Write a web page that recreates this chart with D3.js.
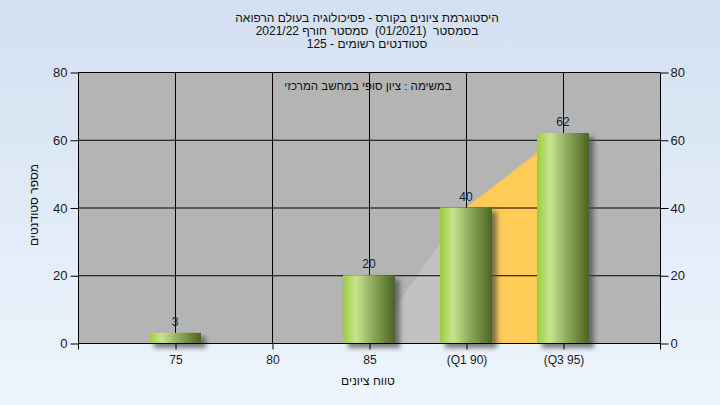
<!DOCTYPE html>
<html><head><meta charset="utf-8">
<script src="https://cdn.jsdelivr.net/npm/d3@7/dist/d3.min.js"></script>
<style>
body{margin:0;padding:0;}
svg{display:block;font-family:"Liberation Sans","DejaVu Sans",Arial,sans-serif;}
text{white-space:pre;}
</style></head>
<body>
<svg id="c" width="720" height="405"></svg>
<script>
const titleLines = ["היסטוגרמת ציונים בקורס - פסיכולוגיה בעולם הרפואה",
  "בסמסטר  (01/2021)  סמסטר חורף 2021/22",
  "סטודנטים רשומים - 125"];
const legendText = "במשימה : ציון סופי במחשב המרכזי";
const categories = ["75","80","85","(Q1 90)","(Q3 95)"];
const counts = [3, 0, 20, 40, 62];
const lowerArea = [null, null, 0, 40, null];
const iqrArea = [null, null, null, 40, 62];
const yTicks = [0,20,40,60,80];
const xTitle = "טווח ציונים";
const yTitle = "מספר סטודנטים";

const svg = d3.select("#c");
const W=720,H=405, L=78,R=660,T=72,B=343;
const defs = svg.append("defs");
const bg = defs.append("linearGradient").attr("id","bg").attr("x1",0).attr("y1",0).attr("x2",0).attr("y2",1);
bg.append("stop").attr("offset","0%").attr("stop-color","#d3e0f1");
bg.append("stop").attr("offset","100%").attr("stop-color","#eef5fd");
const bar = defs.append("linearGradient").attr("id","bar").attr("x1",0).attr("y1",0).attr("x2",1).attr("y2",0);
[["0%","#9ccc3a"],["25%","#c9e48e"],["55%","#93ad5e"],["100%","#4b6423"]].forEach(s=>bar.append("stop").attr("offset",s[0]).attr("stop-color",s[1]));
const f = defs.append("filter").attr("id","sh").attr("x","-20%").attr("y","-20%").attr("width","150%").attr("height","150%");
f.append("feGaussianBlur").attr("stdDeviation",2.5);

svg.append("rect").attr("width",W).attr("height",H).attr("fill","url(#bg)");

const x = d3.scalePoint().domain(categories).range([L,R]).padding(1);
const y = d3.scaleLinear().domain([0,80]).range([B,T]);

svg.append("rect").attr("x",L).attr("y",T).attr("width",R-L).attr("height",B-T).attr("fill","#b4b4b4");

// areas
const area = d3.area().defined(d=>d.v!=null).x(d=>x(d.c)).y0(y(0)).y1(d=>y(d.v));
svg.append("path").datum(categories.map((c,i)=>({c,v:lowerArea[i]}))).attr("d",area).attr("fill","#c2c2c2");
svg.append("path").datum(categories.map((c,i)=>({c,v:iqrArea[i]}))).attr("d",area).attr("fill","#ffcb57");

// grid
const g = svg.append("g");
g.selectAll(".hg").data(yTicks).join("line").attr("x1",L).attr("x2",R).attr("y1",d=>y(d)+0.5).attr("y2",d=>y(d)+0.5).attr("stroke","#000");
g.selectAll(".vg").data(categories).join("line").attr("x1",d=>x(d)+0.5).attr("x2",d=>x(d)+0.5).attr("y1",T).attr("y2",B).attr("stroke","#000");

// bars
const bw = 52;
const barData = counts.map((v,i)=>({v,c:categories[i]})).filter(d=>d.v>0);
const bars = svg.append("g");
bars.selectAll(".s").data(barData).join("rect")
  .attr("x",d=>x(d.c)-bw/2+5).attr("y",d=>y(d.v)+4).attr("width",bw).attr("height",d=>y(0)-y(d.v)+1)
  .attr("fill","#4a4a4a").attr("opacity",0.7).attr("filter","url(#sh)");
bars.selectAll(".b").data(barData).join("rect")
  .attr("x",d=>x(d.c)-bw/2).attr("y",d=>y(d.v)).attr("width",bw).attr("height",d=>y(0)-y(d.v))
  .attr("fill","url(#bar)");
svg.append("g").selectAll("text").data(barData).join("text")
  .attr("x",d=>x(d.c)).attr("y",d=>y(d.v)-7).attr("text-anchor","middle").attr("font-size",12).attr("fill","#10203a").text(d=>d.v);

// axes
const axL = svg.append("g").attr("transform",`translate(${L+0.5},0.5)`).call(d3.axisLeft(y).tickValues(yTicks).tickSize(8).tickPadding(3));
const axR = svg.append("g").attr("transform",`translate(${R+0.5},0.5)`).call(d3.axisRight(y).tickValues(yTicks).tickSize(8).tickPadding(2));
const axB = svg.append("g").attr("transform",`translate(0.5,${B+0.5})`).call(d3.axisBottom(x).tickSize(6).tickPadding(6).tickSizeOuter(0));
[axL,axR,axB].forEach(a=>{a.selectAll("path,line").attr("stroke","#000");a.selectAll("text").attr("font-size",13).attr("fill","#1a1a1a").attr("font-family","Liberation Sans, Arial, sans-serif");});
axB.select(".domain").attr("d",`M${L},0H${R}`);
axB.selectAll("text").attr("font-size",12);
axL.select(".domain").attr("d",`M0,${T}V${B+6}`);
axR.select(".domain").attr("d",`M0,${T}V${B+6}`);

// titles
svg.append("g").selectAll("text").data(titleLines).join("text")
  .attr("x",367).attr("y",(d,i)=>22+i*13).attr("text-anchor","middle").attr("direction","rtl")
  .attr("font-size",12).attr("fill","#111").text(d=>d);
svg.append("text").attr("x",368).attr("y",90).attr("text-anchor","middle").attr("direction","rtl").attr("font-size",11.5).attr("fill","#111").text(legendText);
svg.append("text").attr("x",368).attr("y",385).attr("text-anchor","middle").attr("direction","rtl").attr("font-size",12).attr("fill","#111").text(xTitle);
svg.append("text").attr("transform","translate(38,205) rotate(-90)").attr("text-anchor","middle").attr("direction","rtl").attr("font-size",12).attr("fill","#111").text(yTitle);
</script>
</body></html>
